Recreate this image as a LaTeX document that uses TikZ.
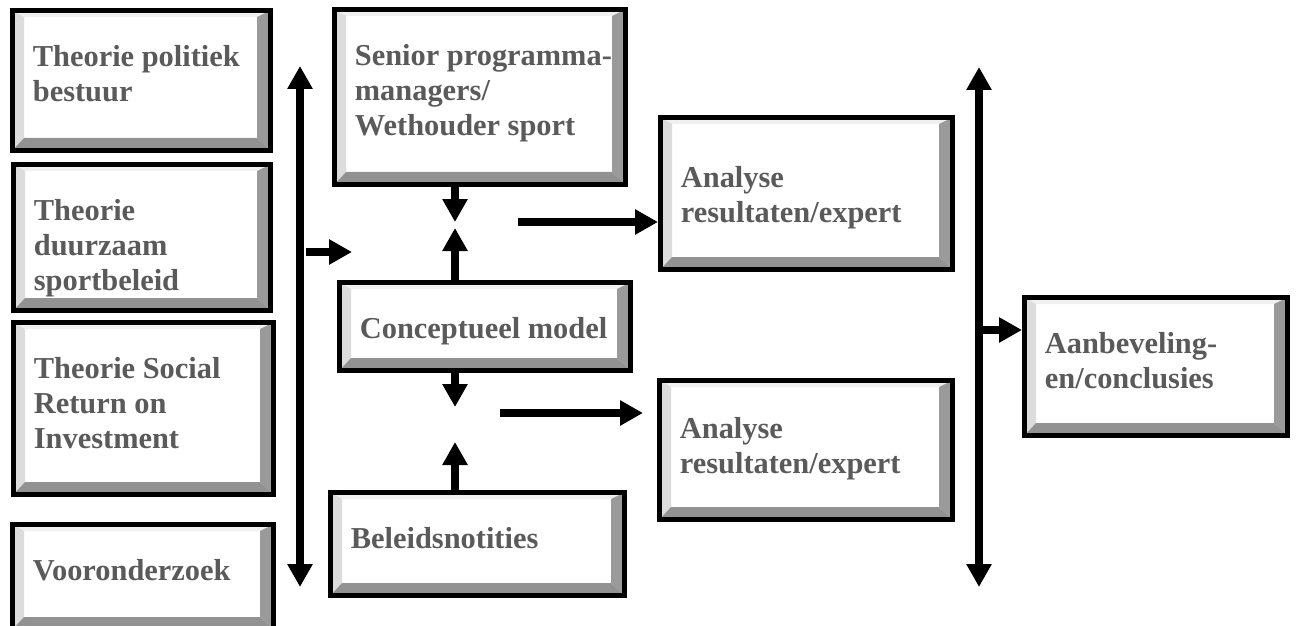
\documentclass[tikz,border=0pt]{standalone}
\usepackage{fontspec}
\setmainfont{Liberation Serif}
\usetikzlibrary{arrows.meta,calc}
\definecolor{txtgrey}{HTML}{5A5A5A}
\definecolor{bevL}{HTML}{DCDCDC}
\definecolor{bevT}{HTML}{F0F0F0}
\definecolor{bevR}{HTML}{9A9A9A}
\definecolor{bevB}{HTML}{929292}
\tikzset{
  bev/.style={draw=black, line width=2.5pt, fill=white, inner sep=0pt,
    path picture={
      \coordinate (pnw) at (path picture bounding box.north west);
      \coordinate (pne) at (path picture bounding box.north east);
      \coordinate (psw) at (path picture bounding box.south west);
      \coordinate (pse) at (path picture bounding box.south east);
      \coordinate (qnw) at ([shift={(5.75pt,-3.25pt)}]pnw);
      \coordinate (qne) at ([shift={(-6.75pt,-3.25pt)}]pne);
      \coordinate (qsw) at ([shift={(5.75pt,6.25pt)}]psw);
      \coordinate (qse) at ([shift={(-6.75pt,6.25pt)}]pse);
      \fill[bevT] (pnw) -- (pne) -- (qne) -- (qnw) -- cycle;
      \fill[bevL] (pnw) -- (qnw) -- (qsw) -- (psw) -- cycle;
      \fill[bevR] (pne) -- (qne) -- (qse) -- (pse) -- cycle;
      \fill[bevB] (psw) -- (qsw) -- (qse) -- (pse) -- cycle;
    }},
  boxtext/.style={inner sep=0pt, align=left, text=txtgrey,
    font=\bfseries\fontsize{15.2}{17.5}\selectfont},
  arr/.style={line width=4.25pt, -{Triangle[length=11.5pt,width=12pt]}},
  darr/.style={line width=4.25pt, {Triangle[length=11.5pt,width=12pt]}-{Triangle[length=11.5pt,width=12pt]}}
}
\newcommand\bevbox[7][0]{%
  \pgfmathsetmacro\bxw{(#5-#3)*0.5-2.5}%
  \pgfmathsetmacro\bxh{(#6-#4)*0.5-2.5}%
  \pgfmathsetmacro\bxd{17+#1}%
  \node[bev, minimum width=\bxw pt, minimum height=\bxh pt] (#2) at ({(#3+#5)/2},{(#4+#6)/2}) {};
  \node[boxtext, anchor=north west] (#2-t) at ([shift={(11.25pt,-\bxd pt)}]#2.north west) {\strut #7};
}
\begin{document}
\begin{tikzpicture}[x=0.5pt, y=-0.5pt]
\useasboundingbox (0,0) rectangle (1296,626);
\fill[white] (0,0) rectangle (1296,626);
% boxes
\bevbox{A}{10}{8}{273}{153}{Theorie politiek\\bestuur}
\bevbox{B}{11}{162}{273}{313}{Theorie\\duurzaam\\sportbeleid}
\bevbox{C}{11}{320}{276}{497}{Theorie Social\\Return on\\Investment}
\bevbox{D}{10}{522}{276}{632}{Vooronderzoek}
\bevbox{E}{332}{7}{628}{187}{Senior~programma-\\managers/\\Wethouder sport}
\bevbox{F}{337}{280}{633}{373}{Conceptueel model}
\bevbox{G}{328}{490}{627}{598}{Beleidsnotities}
\bevbox[7]{H}{658}{115}{955}{272}{Analyse\\resultaten/expert}
\bevbox[1]{I}{657}{378}{955}{522}{Analyse\\resultaten/expert}
\bevbox{J}{1022}{295}{1290}{438}{Aanbeveling-\\en/conclusies}
% free ends
\coordinate (v1t) at (300,66);
\coordinate (v1b) at (300,587);
\coordinate (a1s) at (306,252);
\coordinate (a1e) at (352,252);
\coordinate (m1) at (455,222);
\coordinate (m2) at (455,228);
\coordinate (m3) at (455,407);
\coordinate (m4) at (455,442);
\coordinate (h1s) at (518,222);
\coordinate (h2s) at (500,413);
\coordinate (h2e) at (643,413);
\coordinate (v2t) at (979,67);
\coordinate (v2b) at (979,587);
\coordinate (h3s) at (977,330);
% connectors
\draw[darr] (v1b) -- (v1t);
\draw[arr] (a1s) -- (a1e);
\draw[arr] (E.south -| m1) -- (m1);
\draw[arr] (F.north -| m2) -- (m2);
\draw[arr] (F.south -| m3) -- (m3);
\draw[arr] (G.north -| m4) -- (m4);
\draw[arr] (h1s) -- (H.west |- h1s);
\draw[arr] (h2s) -- (h2e);
\draw[darr] (v2b) -- (v2t);
\draw[arr] (h3s) -- (J.west |- h3s);
\end{tikzpicture}
\end{document}
